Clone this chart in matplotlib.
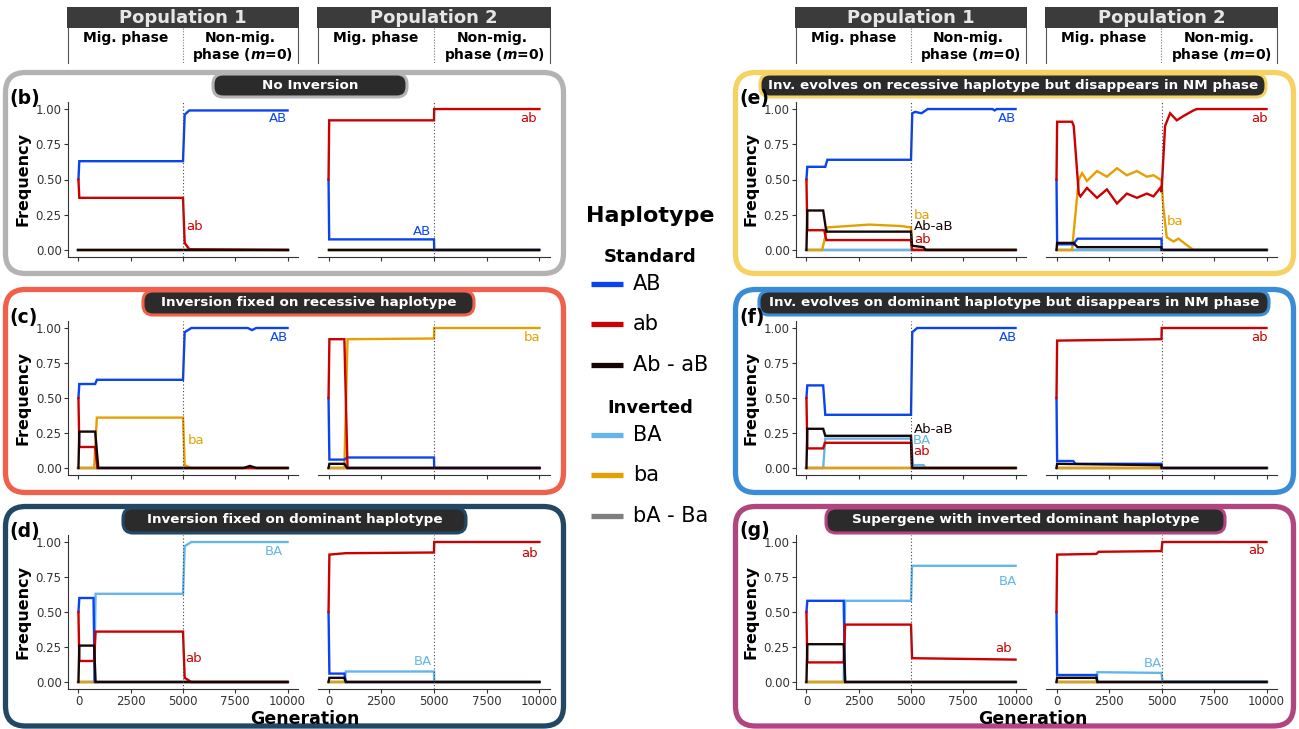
import matplotlib.pyplot as plt
from matplotlib.patches import FancyBboxPatch

# ---- haplotype frequency trajectories as (generation, freq) ----
haplos = ['bA-Ba', 'BA', 'ba', 'AB', 'ab', 'Ab-aB']
flat0 = [(0, 0), (10000, 0)]

# (b) no inversion
b1_AB = [(0, .5), (40, .63), (5000, .63), (5080, .96), (5300, .99), (10000, .99)]
b1_ab = [(0, .5), (40, .37), (5000, .37), (5080, .05), (5300, .005), (10000, 0)]
b2_AB = [(0, .5), (30, .075), (5000, .075), (5010, 0), (10000, 0)]
b2_ab = [(0, .5), (30, .92), (5000, .92), (5010, 1), (10000, 1)]

# (c) inversion fixed on recessive haplotype
c1_AB = [(0, .5), (40, .60), (800, .60), (880, .63), (5000, .63), (5080, .97), (5400, 1),
         (8100, 1), (8300, .985), (8500, 1), (10000, 1)]
c1_ab = [(0, .5), (40, .15), (800, .15), (900, 0), (10000, 0)]
c1_AbaB = [(0, 0), (40, .26), (800, .26), (950, 0), (7900, 0), (8200, .015), (8500, 0), (10000, 0)]
c1_ba = [(0, 0), (750, 0), (880, .36), (5000, .36), (5080, .02), (5400, 0), (10000, 0)]
c2_AB = [(0, .5), (40, .06), (750, .06), (880, .075), (5000, .075), (5010, 0), (10000, 0)]
c2_ab = [(0, .5), (40, .92), (750, .92), (900, 0), (10000, 0)]
c2_AbaB = [(0, 0), (40, .03), (750, .03), (880, 0), (10000, 0)]
c2_ba = [(0, 0), (750, 0), (900, .92), (5000, .925), (5010, 1), (10000, 1)]

# (d) inversion fixed on dominant haplotype
d1_AB = [(0, .5), (40, .60), (720, .60), (780, 0), (10000, 0)]
d1_ab = [(0, .5), (40, .15), (750, .15), (820, .36), (5000, .36), (5080, .03), (5400, 0), (10000, 0)]
d1_AbaB = [(0, 0), (40, .26), (750, .26), (820, 0), (10000, 0)]
d1_BA = [(0, 0), (750, 0), (820, .63), (5000, .63), (5080, .97), (5400, 1), (10000, 1)]
d2_AB = [(0, .5), (40, .06), (750, .06), (820, 0), (10000, 0)]
d2_ab = [(0, .5), (40, .91), (800, .92), (5000, .925), (5010, 1), (10000, 1)]
d2_AbaB = [(0, 0), (40, .03), (750, .03), (820, 0), (10000, 0)]
d2_BA = [(0, 0), (750, 0), (820, .075), (5000, .075), (5010, 0), (10000, 0)]

# (e) inversion on recessive haplotype, lost in NM phase
e1_AB = [(0, .5), (40, .59), (900, .59), (1000, .64), (5000, .64), (5060, .97), (5200, .98), (5500, .97),
         (5800, 1), (8900, 1), (9000, .99), (9100, 1), (10000, 1)]
e1_ab = [(0, .5), (40, .14), (850, .14), (950, .07), (5000, .07), (5050, 0), (10000, 0)]
e1_AbaB = [(0, 0), (40, .28), (800, .28), (950, .13), (5000, .13), (5050, .03), (5600, .02), (5700, 0), (10000, 0)]
e1_ba = [(0, 0), (750, 0), (1000, .16), (2000, .17), (3000, .18), (4500, .17), (5000, .16), (5050, 0), (10000, 0)]
e2_AB = [(0, .5), (30, .04), (800, .04), (1000, .08), (5000, .08), (5010, 0), (10000, 0)]
e2_ab = [(0, .5), (30, .91), (740, .91), (820, .88), (1060, .40), (1140, .38), (1450, .44), (1930, .37),
         (2400, .43), (2880, .33), (3350, .40), (3830, .37), (4300, .40), (4620, .38), (4940, .44),
         (5000, .41), (5170, .88), (5410, .97), (5730, .92), (6040, .95), (6520, .99), (6680, 1), (10000, 1)]
e2_ba = [(0, 0), (740, 0), (1060, .50), (1220, .545), (1450, .49), (1930, .56), (2400, .52), (2880, .58),
         (3350, .53), (3830, .56), (4300, .52), (4620, .53), (4940, .50), (5000, .49), (5090, .30),
         (5250, .09), (5570, .06), (5810, .08), (6200, .035), (6520, 0), (10000, 0)]
e2_AbaB = [(0, 0), (30, .05), (800, .05), (1000, .02), (5000, .02), (5010, 0), (10000, 0)]

# (f) inversion on dominant haplotype, lost in NM phase
f1_AB = [(0, .5), (40, .59), (800, .59), (900, .38), (5000, .38), (5060, .97), (5300, 1), (10000, 1)]
f1_ab = [(0, .5), (40, .14), (800, .14), (880, .18), (5000, .18), (5050, 0), (10000, 0)]
f1_AbaB = [(0, 0), (40, .28), (800, .28), (900, .23), (5000, .23), (5050, 0), (10000, 0)]
f1_BA = [(0, 0), (800, 0), (900, .21), (5000, .21), (5100, .02), (5600, .02), (5700, 0), (10000, 0)]
f2_AB = [(0, .5), (30, .05), (800, .05), (900, .03), (5000, .03), (5010, 0), (10000, 0)]
f2_ab = [(0, .5), (30, .91), (5000, .92), (5010, 1), (10000, 1)]
f2_AbaB = [(0, 0), (30, .03), (5000, .02), (5010, 0), (10000, 0)]

# (g) supergene with inverted dominant haplotype
g1_AB = [(0, .5), (40, .58), (1780, .58), (1850, 0), (10000, 0)]
g1_ab = [(0, .5), (40, .14), (1780, .14), (1850, .41), (5000, .41), (5050, .17), (10000, .16)]
g1_AbaB = [(0, 0), (40, .27), (1780, .27), (1850, 0), (10000, 0)]
g1_BA = [(0, 0), (1780, 0), (1850, .58), (5000, .58), (5050, .83), (10000, .83)]
g2_AB = [(0, .5), (30, .05), (1900, .05), (1950, 0), (10000, 0)]
g2_ab = [(0, .5), (30, .91), (1900, .915), (2000, .93), (5000, .935), (5040, 1), (10000, 1)]
g2_AbaB = [(0, 0), (30, .03), (1900, .03), (1950, 0), (10000, 0)]
g2_BA = [(0, 0), (1900, 0), (1950, .07), (5000, .065), (5040, .005), (10000, .005)]

# in-plot labels (haplotype, generation, freq)
b1_lab = [('AB', 9550, .93), ('ab', 5570, .165)]
b2_lab = [('ab', 9480, .93), ('AB', 4450, .13)]
c1_lab = [('AB', 9600, .935), ('ba', 5630, .195)]
c2_lab = [('ba', 9650, .935)]
d1_lab = [('BA', 9360, .935), ('ab', 5490, .167)]
d2_lab = [('ab', 9530, .92), ('BA', 4490, .143)]
e1_lab = [('AB', 9600, .93), ('ba', 5520, .245), ('Ab-aB', 6100, .166), ('ab', 5560, .076)]
e2_lab = [('ab', 9650, .935), ('ba', 5650, .20)]
f1_lab = [('AB', 9650, .935), ('Ab-aB', 6070, .274), ('BA', 5500, .198), ('ab', 5500, .12)]
f2_lab = [('ab', 9650, .935)]
g1_lab = [('BA', 9650, .72), ('ab', 9430, .24)]
g2_lab = [('ab', 9550, .936), ('BA', 4570, .133)]

hap_col = {'AB': '#0a43f2', 'ab': '#cc0000', 'Ab-aB': '#160606',
           'BA': '#64b5ea', 'ba': '#e69f00', 'bA-Ba': '#7f7f7f'}

W, H = 1299, 729
fig = plt.figure(figsize=(W / 100, H / 100), dpi=100)

bg = fig.add_axes([0, 0, 1, 1], zorder=0)
bg.set_xlim(0, W)
bg.set_ylim(H, 0)
bg.axis('off')

rows = [(102, 257), (321, 475), (535, 689)]
cols = [((68, 298), (318, 550)), ((796, 1026), (1046, 1277))]


def px_axes(x0, x1, y0, y1):
    return fig.add_axes([x0 / W, 1 - y1 / H, (x1 - x0) / W, (y1 - y0) / H], zorder=2)


def draw_pop(ax, series, labels, first, bottom):
    for h in haplos:
        pts = series.get(h, flat0)
        ax.plot([p[0] for p in pts], [p[1] for p in pts], color=hap_col[h], lw=1.7,
                solid_joinstyle='miter')
    for h, x, y in labels:
        ax.text(x, y, h, color=hap_col[h], fontsize=9.5, ha='center', va='center')
    ax.axvline(5000, color='#444444', ls=(0, (1, 2)), lw=0.8)
    ax.set_xlim(-500, 10500)
    ax.set_ylim(-0.05, 1.05)
    ax.set_facecolor('none')
    ax.set_xticks([0, 2500, 5000, 7500, 10000])
    ax.set_yticks([0, .25, .5, .75, 1])
    ax.set_yticklabels(['0.00', '0.25', '0.50', '0.75', '1.00'])
    for s in ['top', 'right']:
        ax.spines[s].set_visible(False)
    ax.spines['bottom'].set_color('#333333')
    ax.spines['left'].set_color('#333333')
    ax.tick_params(length=3, width=0.8, color='#333333', labelsize=8.5, labelcolor='#333333', pad=1.5)
    if not first:
        ax.spines['left'].set_visible(False)
        ax.tick_params(axis='y', left=False, labelleft=False)
    else:
        ax.set_ylabel('Frequency', fontsize=11.5, fontweight='bold', labelpad=4)
    if not bottom:
        ax.tick_params(axis='x', labelbottom=False)


panels = [
    ('(b)', 0, 0, 'No Inversion', '#b3b3b3', (213, 407),
     [{'AB': b1_AB, 'ab': b1_ab}, {'AB': b2_AB, 'ab': b2_ab}], [b1_lab, b2_lab]),
    ('(c)', 0, 1, 'Inversion fixed on recessive haplotype', '#ef614b', (143, 474),
     [{'AB': c1_AB, 'ab': c1_ab, 'Ab-aB': c1_AbaB, 'ba': c1_ba},
      {'AB': c2_AB, 'ab': c2_ab, 'Ab-aB': c2_AbaB, 'ba': c2_ba}], [c1_lab, c2_lab]),
    ('(d)', 0, 2, 'Inversion fixed on dominant haplotype', '#234866', (123, 466),
     [{'AB': d1_AB, 'ab': d1_ab, 'Ab-aB': d1_AbaB, 'BA': d1_BA},
      {'AB': d2_AB, 'ab': d2_ab, 'Ab-aB': d2_AbaB, 'BA': d2_BA}], [d1_lab, d2_lab]),
    ('(e)', 1, 0, 'Inv. evolves on recessive haplotype but disappears in NM phase', '#f6d263', (760, 1266),
     [{'AB': e1_AB, 'ab': e1_ab, 'Ab-aB': e1_AbaB, 'ba': e1_ba},
      {'AB': e2_AB, 'ab': e2_ab, 'Ab-aB': e2_AbaB, 'ba': e2_ba}], [e1_lab, e2_lab]),
    ('(f)', 1, 1, 'Inv. evolves on dominant haplotype but disappears in NM phase', '#3a8cd6', (759, 1269),
     [{'AB': f1_AB, 'ab': f1_ab, 'Ab-aB': f1_AbaB, 'BA': f1_BA},
      {'AB': f2_AB, 'ab': f2_ab, 'Ab-aB': f2_AbaB}], [f1_lab, f2_lab]),
    ('(g)', 1, 2, 'Supergene with inverted dominant haplotype', '#b0457f', (826, 1225),
     [{'AB': g1_AB, 'ab': g1_ab, 'Ab-aB': g1_AbaB, 'BA': g1_BA},
      {'AB': g2_AB, 'ab': g2_ab, 'Ab-aB': g2_AbaB, 'BA': g2_BA}], [g1_lab, g2_lab]),
]

box_y = [(72.5, 273.5), (289.5, 492.5), (506.5, 726)]
box_x = [(5.5, 563.5), (735.5, 1293.5)]
tag_y = [(74, 97), (291, 315), (508, 533)]

for lab, c, r, title, ecol, (tx0, tx1), series, labels in panels:
    bx0, bx1 = box_x[c]
    by0, by1 = box_y[r]
    bg.add_patch(FancyBboxPatch((bx0, by0), bx1 - bx0, by1 - by0,
                                boxstyle='round,pad=0,rounding_size=20',
                                fc='white', ec=ecol, lw=3.8))
    ty0, ty1 = tag_y[r]
    bg.add_patch(FancyBboxPatch((tx0, ty0), tx1 - tx0, ty1 - ty0,
                                boxstyle='round,pad=0,rounding_size=10',
                                fc='#2b2b2b', ec=ecol, lw=2.2))
    bg.text((tx0 + tx1) / 2, (ty0 + ty1) / 2 - 0.5, title, color='white', fontsize=9.7,
            fontweight='bold', ha='center', va='center')
    bg.text(bx0 + 4, rows[r][0] - 4, lab, fontsize=13.5, fontweight='bold', ha='left', va='center')
    y0, y1 = rows[r]
    for k in range(2):
        x0, x1 = cols[c][k]
        ax = px_axes(x0, x1, y0, y1)
        draw_pop(ax, series[k], labels[k], k == 0, r == 2)
    if r == 2:
        bg.text((cols[c][0][0] + cols[c][1][1]) / 2 - 4, 718.5, 'Generation', fontsize=12.5,
                fontweight='bold', ha='center', va='center')

# ---- column headers ----
for c in range(2):
    for k, name in enumerate(['Population 1', 'Population 2']):
        x0, x1 = cols[c][k]
        bg.add_patch(plt.Rectangle((x0 - 1, 7), x1 - x0 + 2, 21, fc='#3b3b3b', ec='none'))
        bg.text((x0 + x1) / 2, 17.5, name, color='#e6e6e6', fontsize=13, fontweight='bold',
                ha='center', va='center')
        bg.plot([x0, x0], [28, 63], color='#555555', lw=0.8)
        bg.plot([x1, x1], [28, 63], color='#555555', lw=0.8)
        xm = x0 + (5500 / 11000) * (x1 - x0)
        bg.plot([xm, xm], [28, 63], color='#777777', lw=0.8, ls=(0, (1, 1.5)))
        bg.text((x0 + xm) / 2, 38, 'Mig. phase', fontsize=10, fontweight='bold', ha='center', va='center')
        bg.text((xm + x1) / 2, 38, 'Non-mig.', fontsize=10, fontweight='bold', ha='center', va='center')
        bg.text((xm + x1) / 2 + 2, 55, r'phase ($\mathbfit{m}$=0)', fontsize=10, fontweight='bold',
                ha='center', va='center')

# ---- legend ----
bg.text(650, 216, 'Haplotype', fontsize=16, fontweight='bold', ha='center', va='center')
bg.text(650, 257, 'Standard', fontsize=13, fontweight='bold', ha='center', va='center')
bg.text(650, 408, 'Inverted', fontsize=13, fontweight='bold', ha='center', va='center')
leg_y = {'AB': 284, 'ab': 324, 'Ab-aB': 365, 'BA': 435, 'ba': 475, 'bA-Ba': 516}
leg_txt = {'AB': 'AB', 'ab': 'ab', 'Ab-aB': 'Ab - aB', 'BA': 'BA', 'ba': 'ba', 'bA-Ba': 'bA - Ba'}
for h, y in leg_y.items():
    bg.plot([591, 623], [y, y], color=hap_col[h], lw=3.8, solid_capstyle='butt')
    bg.text(633, y, leg_txt[h], fontsize=15, ha='left', va='center')

fig.savefig('out.png', dpi=100)
